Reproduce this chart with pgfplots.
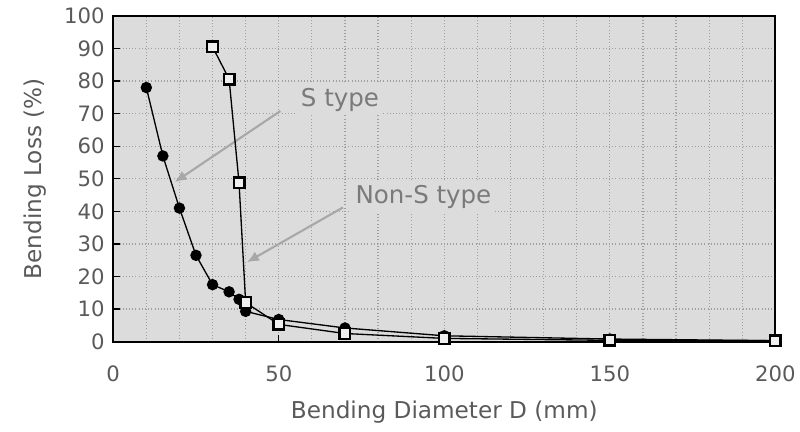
\documentclass[border=0pt]{standalone}
\usepackage{fontspec}
\setmainfont{DejaVu Sans}
\usepackage{pgfplots}
\pgfplotsset{compat=1.18}
\usetikzlibrary{arrows.meta}
\definecolor{bg}{HTML}{DCDCDC}
\definecolor{txt}{HTML}{5A5A5A}
\definecolor{ann}{HTML}{7A7A7A}
\definecolor{arr}{HTML}{A8A8A8}
\begin{document}
\begin{tikzpicture}
\begin{axis}[
  scale only axis, width=500pt, height=246pt,
  xmin=0, xmax=200, ymin=0, ymax=100,
  xtick={0,50,...,200}, ytick={0,10,...,100},
  minor xtick={10,20,...,190},
  grid=both,
  major grid style={dotted, gray!75, line width=0.9pt},
  minor grid style={dotted, gray!75, line width=0.9pt},
  axis background/.style={fill=bg},
  axis line style={line width=1.5pt, black},
  tick align=inside, tick style={black, line width=1pt},
  major tick length=5pt, minor tick length=0pt,
  xtick pos=bottom, ytick pos=left,
  /pgf/number format/assume math mode=true,
  tick label style={font=\fontsize{16}{19}\selectfont, text=txt},
  xticklabel style={yshift=-15pt},
  yticklabel style={xshift=-3pt},
  label style={font=\fontsize{17.5}{21}\selectfont, text=txt},
  xlabel={Bending Diameter D (mm)},
  ylabel={Bending Loss (\%)},
  xlabel style={at={(axis description cs:0.5,-0.215)}, anchor=center},
  ylabel style={at={(axis description cs:-0.118,0.5)}, anchor=center},
  clip=false,
]
\draw[arr, line width=1.6pt, -{Latex[length=9pt,width=8pt]}] (axis cs:50.5,70.8) -- (axis cs:18.6,49);
\draw[arr, line width=1.6pt, -{Latex[length=9pt,width=8pt]}] (axis cs:69.4,41.2) -- (axis cs:40.4,24.4);
\node[fill=bg, text=ann, font=\fontsize{18.5}{22}\selectfont, inner sep=3pt] at (axis cs:68.5,74.3) {S type};
\node[fill=bg, text=ann, font=\fontsize{18.5}{22}\selectfont, inner sep=3pt] at (axis cs:93.7,44.3) {Non-S type};

\addplot[black, line width=1pt, mark=*, mark size=3.8pt] coordinates {
(10,78) (15,57) (20,41) (25,26.5) (30,17.5) (35,15.3) (38,13) (40,9.3) (50,6.8) (70,4.2) (100,1.8) (150,0.8) (200,0.3)
};
\addplot[black, line width=1pt, mark=square*, mark size=4pt, mark options={fill=white!55!bg, line width=1.8pt}] coordinates {
(30,90.5) (35,80.6) (38,48.8) (40,12) (50,5.3) (70,2.5) (100,1) (150,0.4) (200,0.3)
};
\end{axis}
\path ([shift={(-85.5pt,-67.5pt)}]current axis.south west) rectangle ([shift={(14.25pt,12pt)}]current axis.north east);
\end{tikzpicture}
\end{document}
